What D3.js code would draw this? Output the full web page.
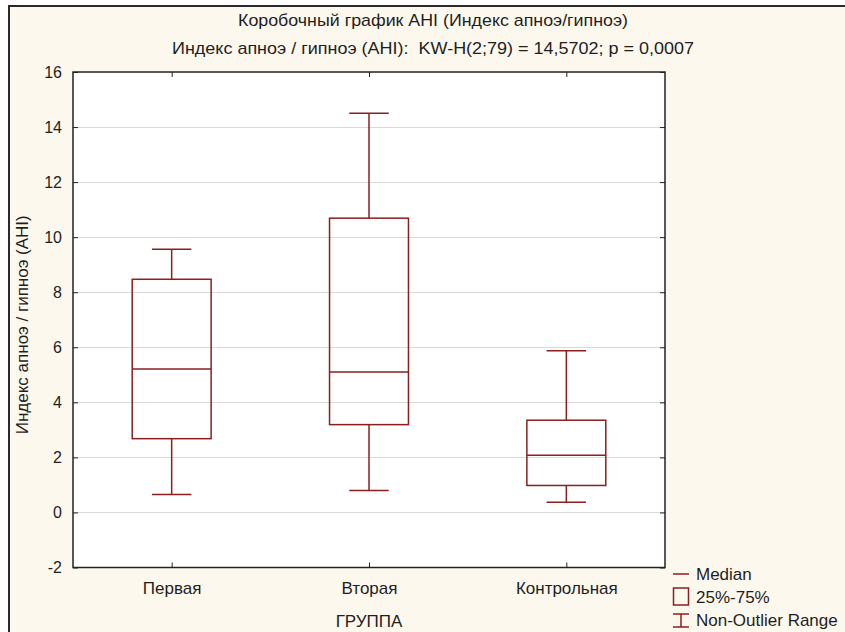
<!DOCTYPE html>
<html>
<head>
<meta charset="utf-8">
<script src="https://cdn.jsdelivr.net/npm/d3@7"></script>
<style>
  html, body { margin: 0; padding: 0; background: #fff; }
  svg { display: block; }
  text { font-family: "Liberation Sans", Arial, sans-serif; fill: #1e1e1e; white-space: pre; }
</style>
</head>
<body>
<svg id="chart" width="845" height="632"></svg>
<script>
// Box plot statistics per group (AHI index)
const categories = ["Первая", "Вторая", "Контрольная"];
const whiskerLow  = [0.65, 0.80, 0.37];
const q1          = [2.68, 3.19, 0.98];
const median      = [5.21, 5.10, 2.08];
const q3          = [8.47, 10.69, 3.35];
const whiskerHigh = [9.56, 14.50, 5.87];
const yTicks = [-2, 0, 2, 4, 6, 8, 10, 12, 14, 16];

const titleText = "Коробочный график AHI (Индекс апноэ/гипноэ)";
const subtitleText = "Индекс апноэ / гипноэ (AHI):  KW-H(2;79) = 14,5702; p = 0,0007";
const yLabel = "Индекс апноэ / гипноэ (AHI)";
const xLabel = "ГРУППА";
const legendLabels = ["Median", "25%-75%", "Non-Outlier Range"];

const boxColor = "#8a1f1f";
const svg = d3.select("#chart");

// outer panel
svg.append("rect").attr("x", 9).attr("y", 6).attr("width", 860).attr("height", 660)
  .attr("fill", "#fdf8ee").attr("stroke", "#2a2a2a").attr("stroke-width", 2);

const plot = { left: 73, right: 665, top: 72, bottom: 567.5 };

const x = d3.scaleBand().domain(categories).range([plot.left, plot.right]).padding(0);
const y = d3.scaleLinear().domain([-2, 16]).range([plot.bottom, plot.top]);

svg.append("rect").attr("x", plot.left).attr("y", plot.top)
  .attr("width", plot.right - plot.left).attr("height", plot.bottom - plot.top)
  .attr("fill", "#ffffff");

// horizontal grid
svg.append("g").selectAll("line").data(yTicks.filter(d => d > -2 && d < 16)).join("line")
  .attr("x1", plot.left).attr("x2", plot.right)
  .attr("y1", d => Math.round(y(d)) + 0.5).attr("y2", d => Math.round(y(d)) + 0.5)
  .attr("stroke", "#d9d9d9").attr("stroke-width", 1.2);

// axes with inward ticks
const styleAxis = (g, size) => {
  g.select(".domain").remove();
  g.selectAll(".tick line").attr("stroke", "#222");
  g.selectAll(".tick text").attr("font-size", size).attr("fill", "#1e1e1e")
    .attr("font-family", "Liberation Sans, Arial, sans-serif");
};

svg.append("g").attr("transform", `translate(${plot.left},0)`)
  .call(d3.axisLeft(y).tickValues(yTicks).tickFormat(d => String(d))
    .tickSizeInner(-5).tickSizeOuter(0).tickPadding(11))
  .call(styleAxis, 16);
svg.append("g").attr("transform", `translate(${plot.right},0)`)
  .call(d3.axisRight(y).tickValues(yTicks).tickSizeInner(-5).tickSizeOuter(0).tickFormat(""))
  .call(styleAxis, 16);
const xc = d => x(d) + x.bandwidth() / 2;
const xCenter = d3.scalePoint().domain(categories).range([xc(categories[0]), xc(categories[2])]);
svg.append("g").attr("transform", `translate(0,${plot.bottom})`)
  .call(d3.axisBottom(xCenter).tickSizeInner(-5).tickSizeOuter(0).tickPadding(14))
  .call(styleAxis, 17);
svg.append("g").attr("transform", `translate(0,${plot.top})`)
  .call(d3.axisTop(xCenter).tickSizeInner(-5).tickSizeOuter(0).tickFormat(""))
  .call(styleAxis, 16);

// plot frame
svg.append("rect").attr("x", plot.left).attr("y", plot.top)
  .attr("width", plot.right - plot.left).attr("height", plot.bottom - plot.top)
  .attr("fill", "none").attr("stroke", "#222").attr("stroke-width", 1.5);

// boxes
const bw = x.bandwidth() * 0.4;
const cw = x.bandwidth() * 0.2;
const boxes = svg.append("g").attr("stroke", boxColor).attr("stroke-width", 1.5).attr("fill", "none");
categories.forEach((c, i) => {
  const cx = xc(c);
  const g = boxes.append("g");
  g.append("line").attr("x1", cx).attr("x2", cx).attr("y1", y(whiskerHigh[i])).attr("y2", y(q3[i]));
  g.append("line").attr("x1", cx).attr("x2", cx).attr("y1", y(q1[i])).attr("y2", y(whiskerLow[i]));
  g.append("line").attr("x1", cx - cw / 2).attr("x2", cx + cw / 2).attr("y1", y(whiskerHigh[i])).attr("y2", y(whiskerHigh[i]));
  g.append("line").attr("x1", cx - cw / 2).attr("x2", cx + cw / 2).attr("y1", y(whiskerLow[i])).attr("y2", y(whiskerLow[i]));
  g.append("rect").attr("x", cx - bw / 2).attr("width", bw)
    .attr("y", y(q3[i])).attr("height", y(q1[i]) - y(q3[i]));
  g.append("line").attr("x1", cx - bw / 2).attr("x2", cx + bw / 2).attr("y1", y(median[i])).attr("y2", y(median[i]));
});

// titles
svg.append("text").attr("x", 433).attr("y", 26).attr("text-anchor", "middle")
  .attr("font-size", 17).attr("textLength", 390).attr("lengthAdjust", "spacingAndGlyphs").text(titleText);
svg.append("text").attr("x", 433).attr("y", 54).attr("text-anchor", "middle")
  .attr("font-size", 17).attr("textLength", 522).attr("lengthAdjust", "spacingAndGlyphs").text(subtitleText);
svg.append("text").attr("transform", `translate(28,${(plot.top + plot.bottom) / 2 + 5}) rotate(-90)`)
  .attr("text-anchor", "middle").attr("font-size", 17).text(yLabel);
svg.append("text").attr("x", (plot.left + plot.right) / 2).attr("y", 627).attr("text-anchor", "middle")
  .attr("font-size", 17).text(xLabel);

// legend
const lg = svg.append("g").attr("transform", "translate(673,574)");
const lsty = s => s.attr("stroke", boxColor).attr("stroke-width", 1.5).attr("fill", "none");
lg.append("line").attr("x1", 0).attr("x2", 16).attr("y1", 0).attr("y2", 0).call(lsty);
lg.append("rect").attr("x", 0.5).attr("y", 14).attr("width", 15).attr("height", 17).call(lsty);
lg.append("line").attr("x1", 0).attr("x2", 16).attr("y1", 40).attr("y2", 40).call(lsty);
lg.append("line").attr("x1", 0).attr("x2", 16).attr("y1", 53).attr("y2", 53).call(lsty);
lg.append("line").attr("x1", 8).attr("x2", 8).attr("y1", 40).attr("y2", 53).call(lsty);
lg.selectAll("text.l").data(legendLabels).join("text").attr("class", "l")
  .attr("x", 23).attr("y", (d, i) => i * 23 + 6).attr("font-size", 17).text(d => d);
</script>
</body>
</html>
